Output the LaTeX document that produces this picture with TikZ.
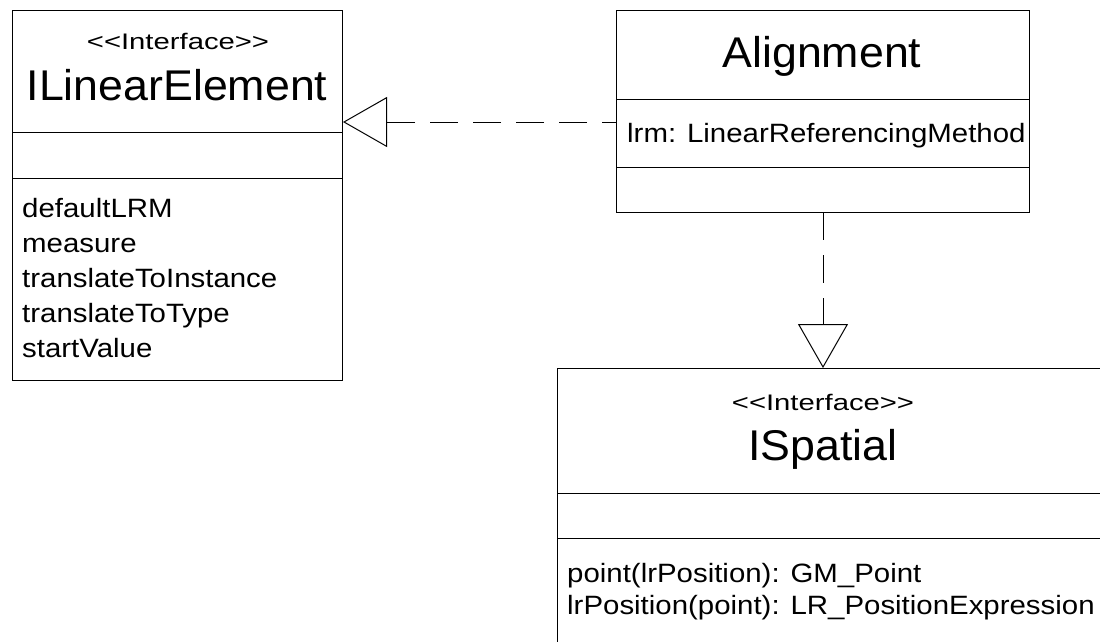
\documentclass[tikz,border=0pt]{standalone}
\usepackage{fontspec}
\setmainfont{Liberation Sans}
\newfontfamily\stereofont{Liberation Sans}[FakeStretch=1.3]
\newfontfamily\namefont{Liberation Sans}[FakeStretch=1.04]
\newfontfamily\attrfont{Liberation Sans}[FakeStretch=1.11]
\usetikzlibrary{arrows.meta}
\newcommand{\stereotxt}{<\kern0pt<Interface>\kern0pt>}
\begin{document}
\begin{tikzpicture}[x=1pt,y=-1pt,
  box/.style={draw, line width=1pt, inner sep=0pt, anchor=north west},
  sep/.style={line width=1pt},
  stereo/.style={font=\stereofont\fontsize{22.5}{27}\selectfont, inner sep=0pt, anchor=base},
  cname/.style={font=\namefont\fontsize{43}{48}\selectfont, inner sep=0pt, anchor=base},
  attr/.style={font=\attrfont\fontsize{26.5}{32}\selectfont, inner sep=0pt, anchor=base west},
  realize/.style={line width=1pt, dash pattern=on 28pt off 15pt,
    -{Triangle[open, length=44pt, width=50pt, line width=1pt]}}]
\useasboundingbox (0,0) rectangle (1100,641);
\begin{scope}
\clip (0,0) rectangle (1100,641);
% ILinearElement
\node[box, minimum width=330pt, minimum height=370pt] (ile) at (12,10) {};
\draw[sep] (12,132) -- (342,132);
\draw[sep] (12,178) -- (342,178);
\node[stereo] (ilest) at (178,49) {\stereotxt};
\node[cname] (ilename) at (177,100) {ILinearElement};
\node[attr] (ilea1) at (22,217) {defaultLRM};
\node[attr] (ilea2) at (22,252) {measure};
\node[attr] (ilea3) at (22,287) {translateToInstance};
\node[attr] (ilea4) at (22,322) {translateToType};
\node[attr] (ilea5) at (22,357) {startValue};
% Alignment
\node[box, minimum width=413pt, minimum height=202pt] (ali) at (616,10) {};
\draw[sep] (616,99) -- (1029,99);
\draw[sep] (616,167) -- (1029,167);
\node[cname] (aliname) at (822,67) {Alignment};
\node[attr] (aliattr) at (627,142) {lrm: LinearReferencingMethod};
% ISpatial
\node[box, minimum width=600pt, minimum height=320pt] (isp) at (557,368) {};
\draw[sep] (557,493) -- (1157,493);
\draw[sep] (557,538) -- (1157,538);
\node[stereo] (ispst) at (823,410) {\stereotxt};
\node[cname] (ispname) at (823,460) {ISpatial};
\node[attr] (ispa1) at (567,582) {point(lrPosition): GM\_Point};
\node[attr] (ispa2) at (567,614) {lrPosition(point): LR\_PositionExpression};
\end{scope}
% connectors
\coordinate (h1) at (616,122);
\draw[realize, dash phase=14pt] (h1) -- (ile.east |- h1);
\coordinate (v1) at (823,212);
\draw[realize] (v1) -- (v1 |- isp.north);
\end{tikzpicture}
\end{document}
